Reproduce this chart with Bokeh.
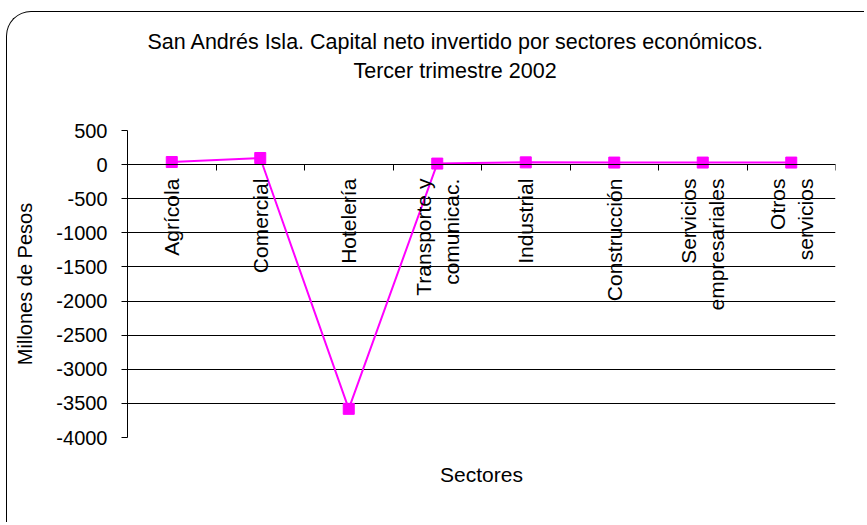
from math import pi
from bokeh.plotting import figure
from bokeh.models import (FactorRange, Range1d, LinearAxis, CategoricalAxis,
                          FixedTicker, Grid, Title)
from bokeh.embed import file_html
from bokeh.resources import INLINE

# ---- data ----
categories = ["Agrícola", "Comercial", "Hotelería", "Transporte y\ncomunicac.",
              "Industrial", "Construcción", "Servicios\nempresariales",
              "Otros\nservicios"]
values = [38, 97, -3580, 15, 33, 30, 30, 30]
y_ticks = [-4000, -3500, -3000, -2500, -2000, -1500, -1000, -500, 0, 500]
title_lines = ["San Andrés Isla. Capital neto invertido por sectores económicos.",
               "Tercer trimestre 2002"]
y_title = "Millones de Pesos"
x_title = "Sectores"

FONT = "Liberation Sans"
MAGENTA = "#FF00FF"

p = figure(width=858, height=511,
           x_range=FactorRange(*categories, range_padding=0),
           y_range=Range1d(y_ticks[0], y_ticks[-1]),
           x_axis_location=None,
           toolbar_location=None, output_backend="svg",
           min_border_left=120, min_border_right=30,
           min_border_top=118, min_border_bottom=86,
           outline_line_color=None,
           background_fill_color="white", border_fill_color=None)

# chart-area frame (rounded top-left corner; the rest runs off the page)
p.styles = {"margin-left": "6px", "margin-top": "11px",
            "border-left": "1.5px solid black", "border-top": "1.5px solid black",
            "border-top-left-radius": "25px"}

# no vertical grid
for g in p.grid:
    if g.dimension == 0:
        g.visible = False

# y axis
ya = p.yaxis[0]
ya.ticker = FixedTicker(ticks=y_ticks)
ya.major_label_overrides = {t: str(t) for t in y_ticks}
ya.major_label_text_font = FONT
ya.major_label_text_font_size = "20px"
ya.major_label_text_color = "black"
ya.major_tick_out = 6
ya.major_tick_in = 0
ya.minor_tick_out = 0
ya.minor_tick_in = 0
ya.major_label_standoff = 14
ya.axis_line_color = "black"
ya.major_tick_line_color = "black"
ya.axis_label = y_title
ya.axis_label_text_font = FONT
ya.axis_label_text_font_size = "20px"
ya.axis_label_text_font_style = "normal"
ya.axis_label_text_color = "black"
ya.axis_label_standoff = 17

# horizontal gridlines (inner ones black, top one faint)
p.ygrid.ticker = FixedTicker(ticks=[t for t in y_ticks if y_ticks[0] < t < y_ticks[-1]])
p.ygrid.grid_line_color = "black"
p.ygrid.grid_line_width = 1
p.add_layout(Grid(dimension=1, ticker=FixedTicker(ticks=[y_ticks[-1]]),
                  grid_line_color="#e4e4e4", grid_line_width=1))

# x axis crossing at 0: tick marks between categories
tick_axis = LinearAxis(fixed_location=0,
                       ticker=FixedTicker(ticks=list(range(len(categories) + 1))),
                       major_tick_out=6, major_tick_in=0,
                       minor_tick_out=0, minor_tick_in=0,
                       major_label_text_alpha=0,
                       axis_line_color="black", major_tick_line_color="black")
p.add_layout(tick_axis, "below")

# category labels, vertical, hanging below the zero line
cat_axis = CategoricalAxis(fixed_location=0,
                           major_tick_out=0, major_tick_in=0,
                           axis_line_color=None,
                           major_label_orientation=pi / 2,
                           major_label_standoff=14,
                           major_label_text_font=FONT,
                           major_label_text_font_size="21px",
                           major_label_text_color="black")
p.add_layout(cat_axis, "below")

# x-axis title as the label of an otherwise empty bottom axis
title_axis = LinearAxis(ticker=FixedTicker(ticks=[]),
                        axis_line_color=None, major_tick_out=0, major_tick_in=0,
                        minor_tick_out=0, minor_tick_in=0, major_label_standoff=0,
                        axis_label=x_title, axis_label_text_font=FONT,
                        axis_label_text_font_size="21px",
                        axis_label_text_font_style="normal",
                        axis_label_text_color="black", axis_label_standoff=25)
p.add_layout(title_axis, "below")

# series
p.line(categories, values, line_color=MAGENTA, line_width=2)
p.scatter(categories, values, marker="square", size=11,
          fill_color=MAGENTA, line_color=MAGENTA)

# two-line title: spacer nearest the plot, then line 2, then line 1
p.add_layout(Title(text=" ", text_font_size="2px", standoff=43), "above")
p.add_layout(Title(text=title_lines[1], align="left", offset=226, standoff=2,
                   vertical_align="bottom", text_font=FONT, text_font_size="21.5px",
                   text_font_style="normal", text_color="black"), "above")
p.add_layout(Title(text=title_lines[0], align="left", offset=20, standoff=4,
                   vertical_align="bottom", text_font=FONT, text_font_size="21.5px",
                   text_font_style="normal", text_color="black"), "above")

open("out.html", "w").write(file_html(p, INLINE, title="San Andrés Isla"))
